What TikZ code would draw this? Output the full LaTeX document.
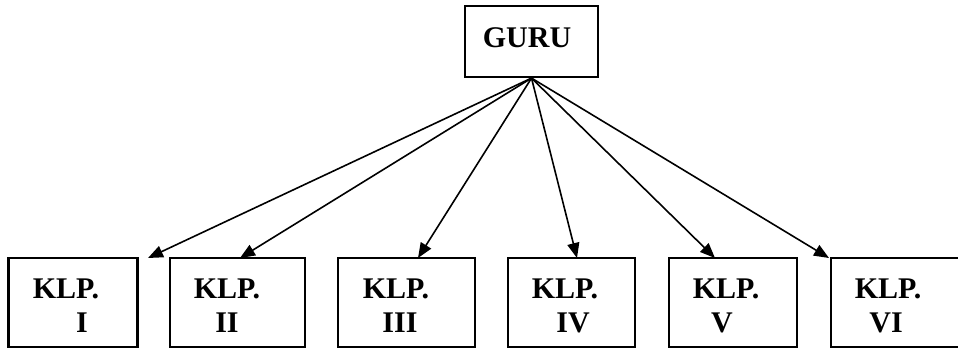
\documentclass[tikz,border=0pt]{standalone}
\usepackage{fontspec}
\setmainfont{Liberation Serif}
\usetikzlibrary{arrows.meta}
\begin{document}
\begin{tikzpicture}[x=1pt,y=-1pt,
  boxstyle/.style={draw=black,line width=2.2pt,rectangle,inner sep=0pt},
  lbl/.style={inner sep=0pt,anchor=base,font=\fontsize{30}{36}\selectfont\bfseries},
  arr/.style={line width=1.6pt,-{Triangle[length=15pt,width=12pt]}}]
\useasboundingbox (0,0) rectangle (958,349);
\clip (0,0) rectangle (958,349);
\fill[white] (0,0) rectangle (958,349);
% GURU
\node[boxstyle,minimum width=133pt,minimum height=71pt] (guru) at (531.5,41.5) {};
\node[lbl] (tguru) at (527,47) {GURU};
% group boxes
\node[boxstyle,minimum width=129pt,minimum height=89pt] (k1) at (73,302.5) {};
\node[boxstyle,minimum width=135pt,minimum height=89pt] (k2) at (237.5,302.5) {};
\node[boxstyle,minimum width=137pt,minimum height=89pt] (k3) at (406.5,302.5) {};
\node[boxstyle,minimum width=127pt,minimum height=89pt] (k4) at (571.5,302.5) {};
\node[boxstyle,minimum width=128pt,minimum height=89pt] (k5) at (733,302.5) {};
\node[boxstyle,minimum width=140pt,minimum height=89pt] (k6) at (901,302.5) {};
% labels
\node[lbl] (a1) at (66,298) {KLP.};
\node[lbl] (b1) at (82,332) {I};
\node[lbl] (a2) at (227,298) {KLP.};
\node[lbl] (b2) at (227,332) {II};
\node[lbl] (a3) at (396,298) {KLP.};
\node[lbl] (b3) at (400,332) {III};
\node[lbl] (a4) at (565,298) {KLP.};
\node[lbl] (b4) at (573,332) {IV};
\node[lbl] (a5) at (726,298) {KLP.};
\node[lbl] (b5) at (722,332) {V};
\node[lbl] (a6) at (888,298) {KLP.};
\node[lbl] (b6) at (886,332) {VI};
% arrow targets
\coordinate (t1) at (148,258);
\coordinate (t2) at (240,258);
\coordinate (t3) at (418,258);
\coordinate (t4) at (577,258);
\coordinate (t5) at (715,258);
\coordinate (t6) at (829,258);
\foreach \i in {1,...,6}{\draw[arr] (guru.south) -- (t\i);}
\end{tikzpicture}
\end{document}
